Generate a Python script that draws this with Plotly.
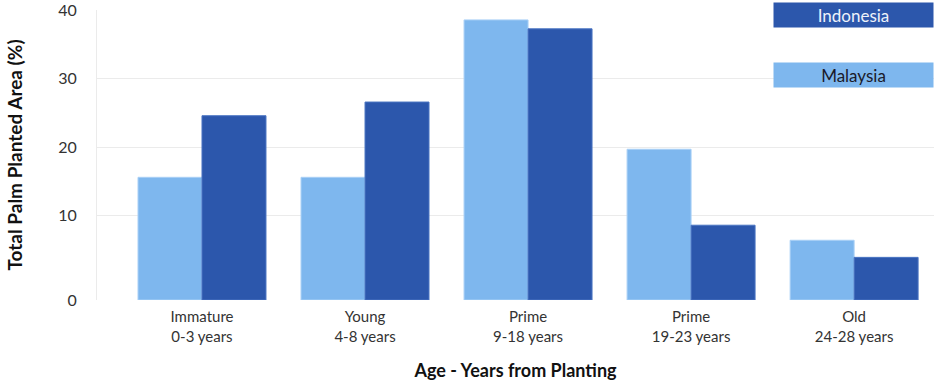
import plotly.graph_objects as go

# Palm planted area by age class (% of total planted area)
categories = ["Immature<br>0-3 years", "Young<br>4-8 years", "Prime<br>9-18 years",
              "Prime<br>19-23 years", "Old<br>24-28 years"]
malaysia = [15.6, 15.6, 38.6, 19.7, 6.4]
indonesia = [24.6, 26.6, 37.3, 8.6, 3.9]
y_tick_values = [10, 20, 30, 40]
y_tick_labels = ["10", "20", "30", "40"]

# value axis starts a little below zero; the floor is labelled "0"
Y_FLOOR = -2.33
Y_TOP = 40.05

FONT = "Lato, 'Open Sans', sans-serif"
LIGHT = "#7EB7EE"
DARK = "#2C57AC"

fig = go.Figure()
fig.add_trace(go.Bar(
    x=categories, y=[v - Y_FLOOR for v in malaysia], base=Y_FLOOR,
    name="Malaysia", marker=dict(color=LIGHT, line=dict(color="#A9D0F6", width=1)),
))
fig.add_trace(go.Bar(
    x=categories, y=[v - Y_FLOOR for v in indonesia], base=Y_FLOOR,
    name="Indonesia", marker=dict(color=DARK, line=dict(color="#4A74C2", width=1)),
))

fig.update_layout(
    width=934, height=386,
    margin=dict(l=97, r=0, t=10, b=86),
    paper_bgcolor="white", plot_bgcolor="white",
    barmode="group", bargap=0.215, bargroupgap=0,
    showlegend=False,
    font=dict(family=FONT, color="#333333", size=15),
)

fig.update_xaxes(
    range=[-0.644, 4.49],
    showgrid=False, zeroline=False, showline=False,
    tickfont=dict(size=15, color="#333333"),
    ticklabelstandoff=6,
    title=dict(text="<b>Age - Years from Planting</b>", font=dict(size=18, color="#111111"),
               standoff=20),
    automargin=False,
)
fig.update_yaxes(
    range=[Y_FLOOR, Y_TOP],
    tickvals=[Y_FLOOR] + y_tick_values, ticktext=["0"] + y_tick_labels,
    showgrid=True, gridcolor="#EBEBEB", gridwidth=1,
    zeroline=False, showline=True, linecolor="#EBEBEB", linewidth=1,
    tickfont=dict(size=16, color="#333333"),
    ticklabelstandoff=16,
    ticklabeloverflow="allow",
    title=dict(text="<b>Total Palm Planted Area (%)</b>", font=dict(size=19, color="#111111"),
               standoff=30),
    automargin=False,
)

# legend drawn as coloured label boxes at the top right
legend_items = [("Indonesia", DARK, "#EEF2FA", 15), ("Malaysia", LIGHT, "#1A1A2A", 75)]
for text, bg, fg, ypix in legend_items:
    fig.add_annotation(
        text=text, xref="paper", yref="paper",
        x=1.0, xanchor="right",
        y=1 + (10 - ypix) / 290, yanchor="middle",
        showarrow=False, bgcolor=bg, width=157, height=22,
        font=dict(size=17, color=fg, family=FONT),
        borderpad=1,
    )

fig.write_html("out.html")
